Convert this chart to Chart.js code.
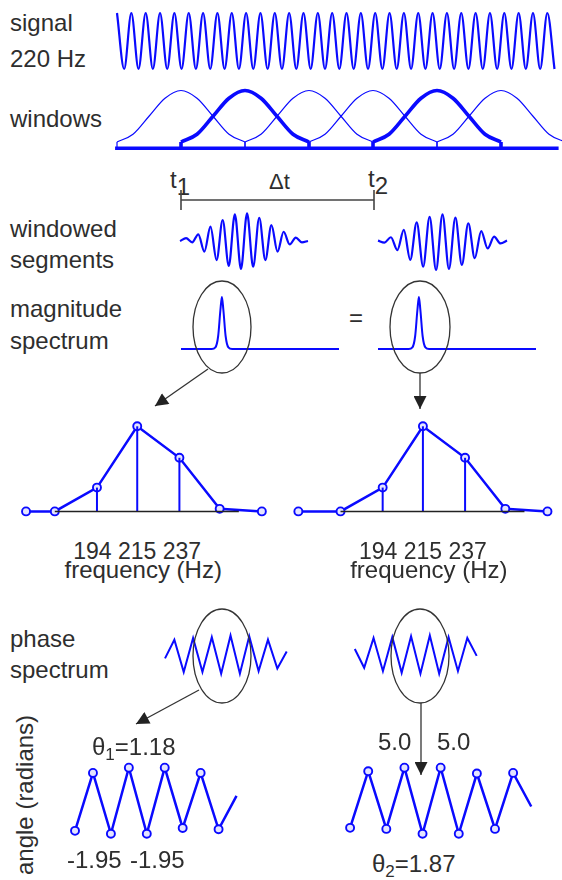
<!DOCTYPE html>
<html>
<head>
<meta charset="utf-8">
<script src="https://cdn.jsdelivr.net/npm/chart.js@4/dist/chart.umd.min.js"></script>
<style>
  body { margin: 0; background: #fff; }
  #page { position: relative; width: 562px; height: 880px; overflow: hidden;
          font-family: "Liberation Sans", Arial, sans-serif; color: #2e2e2e; }
  #page canvas { position: absolute; }
  .lbl { position: absolute; font-size: 24px; line-height: 24px; white-space: nowrap; }
  .lo { position: relative; top: 7px; }
  .sm { position: relative; top: 5px; font-size: 17px; }
  #deco { position: absolute; left: 0; top: 0; }
</style>
</head>
<body>
<div id="page">
  <div class="lbl" style="left:10px;top:11px">signal</div>
  <div class="lbl" style="left:10px;top:47px">220 Hz</div>
  <div class="lbl" style="left:10px;top:107px">windows</div>
  <div class="lbl" style="left:10px;top:217px">windowed</div>
  <div class="lbl" style="left:10px;top:248px">segments</div>
  <div class="lbl" style="left:10px;top:297px">magnitude</div>
  <div class="lbl" style="left:10px;top:329px">spectrum</div>
  <div class="lbl" style="left:10px;top:627px">phase</div>
  <div class="lbl" style="left:10px;top:658px">spectrum</div>
  <div class="lbl" style="left:13px;top:875px;transform-origin:0 0;transform:rotate(-90deg)">angle (radians)</div>

  <div class="lbl" style="left:170px;top:168px">t<span class="lo">1</span></div>
  <div class="lbl" style="left:269px;top:170px;font-size:22px">&Delta;t</div>
  <div class="lbl" style="left:368px;top:167px">t<span class="lo">2</span></div>
  <div class="lbl" style="left:349px;top:306px">=</div>

  <svg id="deco" width="562" height="880">
    <defs>
      <marker id="head" viewBox="0 0 10 10" refX="10" refY="5" markerWidth="14" markerHeight="13"
              markerUnits="userSpaceOnUse" orient="auto">
        <path d="M0,0 L10,5 L0,10 z" fill="#222"/>
      </marker>
    </defs>
    <g fill="none" stroke="#333" stroke-width="1.3">
      <path d="M181,200 H374 M181,190 V210 M374,190 V210" stroke="#444" stroke-width="1.6"/>
      <ellipse cx="222" cy="327" rx="29" ry="46"/>
      <ellipse cx="420" cy="327" rx="30" ry="46"/>
      <ellipse cx="222" cy="656" rx="29" ry="47"/>
      <ellipse cx="420" cy="656" rx="29" ry="47"/>
      <line x1="208" y1="369" x2="155" y2="406" marker-end="url(#head)"/>
      <line x1="420" y1="373" x2="420" y2="409" marker-end="url(#head)"/>
      <line x1="199" y1="690" x2="136" y2="724" marker-end="url(#head)"/>
      <line x1="421" y1="703" x2="421" y2="775" marker-end="url(#head)"/>
    </g>
  </svg>
</div>

<script>
// ---- data ----
// signal: successive peaks / troughs of the 220 Hz tone (31 cycles shown)
const signal220 = [
  1,-1,1,-1,1,-1,1,-1,1,-1, 1,-1,1,-1,1,-1,1,-1,1,-1,
  1,-1,1,-1,1,-1,1,-1,1,-1, 1,-1,1,-1,1,-1,1,-1,1,-1,
  1,-1,1,-1,1,-1,1,-1,1,-1, 1,-1,1,-1,1,-1,1,-1,1,-1,
  1,-1
];
// window shape sampled every quarter hop (window spans 2 hops)
const windowShape = [0, 0.15, 0.5, 0.85, 1, 0.85, 0.5, 0.15, 0];
const windowStarts = [0, 1, 2, 3, 4, 5];
const boldWindows = [1, 4];

// windowed segments: successive extremes
const segment1 = [0, 0.1, -0.05, 0.24, -0.38, 0.51, -0.68, 0.75, -0.89, 0.95, -1, 0.99, -0.92, 0.83, -0.68, 0.57, -0.38, 0.33, -0.12, 0.12, -0.05, 0];
const segment2 = [0.05, -0.02, 0.17, -0.29, 0.43, -0.64, 0.7, -0.88, 0.9, -1, 0.99, -0.96, 0.87, -0.82, 0.67, -0.58, 0.39, -0.23, 0.19, -0.05, 0.05];

// small magnitude spectrum (Hz, relative)
const specFreq = [0, 165, 185, 200, 212, 220, 228, 240, 255, 275, 850];
const specMag  = [0, 0, 0.03, 0.25, 0.75, 1, 0.75, 0.25, 0.03, 0, 0];

// spectrum bins
const binFreq1 = [157, 172, 194, 215, 237, 258, 280];
const binFreq2 = [150, 172, 194, 215, 237, 258, 280];
const binMag   = [0, 0, 0.28, 1, 0.63, 0.03, 0];
const stemFreq = [194, 215, 237];
const axisFreq = [172, 268];

// small phase spectra (relative)
const phaseSmall1 = [-0.2, 0.9, -1, 1, -1, 1.05, -1.1, 1.15, -1.1, 1.1, -0.95, 0.9, -0.8, 0.2];
const phaseSmall2 = [0.35, -0.75, 1, -0.95, 1.05, -1.05, 1.1, -1.1, 1.15, -1.1, 1.05, -0.95, 1, -0.05];

// phase per bin (radians), last entry is the trailing line end
const phase1 = [-1.80, 1.18, -1.95, 1.45, -1.95, 1.45, -1.65, 1.18, -1.72, 0.0];
const phase2 = [2.15, 4.83, 2.10, 5.0, 1.87, 5.0, 1.87, 4.72, 2.10, 4.75, 3.16];

const BLUE = '#0a0aff';
const page = document.getElementById('page');
const deco = document.getElementById('deco');

function line(data, width, extra) {
  return Object.assign({
    data: data, showLine: true, borderColor: BLUE, borderWidth: width,
    pointRadius: 0, fill: false
  }, extra || {});
}
function idx(arr) { return arr.map((v, i) => ({ x: i, y: v })); }
function zip(xs, ys) { return xs.map((x, i) => ({ x: x, y: ys[i] })); }

// box: canvas on page; xm/ym: value v0 sits at page pixel p0, v1 at p1
function panel(box, xm, ym, datasets) {
  const cv = document.createElement('canvas');
  cv.width = box.w; cv.height = box.h;
  cv.style.left = box.left + 'px'; cv.style.top = box.top + 'px';
  page.insertBefore(cv, deco);
  const sx = (xm.p1 - xm.p0) / (xm.v1 - xm.v0);
  const xmin = xm.v0 - (xm.p0 - box.left) / sx;
  const sy = (ym.p1 - ym.p0) / (ym.v1 - ym.v0);
  const ya = ym.v0 + (box.top - ym.p0) / sy;
  const yb = ym.v0 + (box.top + box.h - ym.p0) / sy;
  const chart = new Chart(cv, {
    type: 'scatter',
    data: { datasets: datasets },
    options: {
      responsive: false, animation: false, events: [],
      layout: { padding: 0 },
      plugins: { legend: { display: false }, tooltip: { enabled: false } },
      scales: {
        x: { type: 'linear', display: false, min: xmin, max: xmin + box.w / sx },
        y: { type: 'linear', display: false, min: Math.min(ya, yb), max: Math.max(ya, yb) }
      }
    }
  });
  chart.box = box;
  return chart;
}
function label(html, x, baseline, center, size) {
  const d = document.createElement('div');
  d.className = 'lbl';
  d.innerHTML = html;
  if (size) { d.style.fontSize = size + 'px'; }
  page.insertBefore(d, deco);
  const w = center ? d.getBoundingClientRect().width : 0;
  d.style.left = (x - w / 2) + 'px';
  d.style.top = (baseline - 0.846 * (size || 24)) + 'px';
}

// signal
panel({ left: 100, top: 0, w: 462, h: 85 }, { v0: 0, p0: 117, v1: 61, p1: 554.5 }, { v0: 1, p0: 13, v1: -1, p1: 69 },
  [line(idx(signal220), 2.2, { cubicInterpolationMode: 'monotone' })]);

// windows
const winSets = [line([{ x: -0.03, y: -0.12 }, { x: 6.9, y: -0.12 }], 3.5)];
windowStarts.forEach(s => {
  const w = boldWindows.includes(s) ? 3.6 : 1.2;
  winSets.push(line(windowShape.map((v, k) => ({ x: s + k * 0.25, y: v })), w, { cubicInterpolationMode: 'monotone' }));
  winSets.push(line([{ x: s, y: 0 }, { x: s, y: -0.12 }], w));
  winSets.push(line([{ x: s + 2, y: 0 }, { x: s + 2, y: -0.12 }], w));
});
panel({ left: 100, top: 80, w: 462, h: 75 }, { v0: 0, p0: 117, v1: 1, p1: 181 }, { v0: 0, p0: 142, v1: 1, p1: 90.5 }, winSets);

// windowed segments
panel({ left: 170, top: 205, w: 150, h: 75 }, { v0: 0, p0: 180, v1: 21, p1: 308 }, { v0: 1, p0: 213, v1: -1, p1: 269 },
  [line(idx(segment1), 2.2, { cubicInterpolationMode: 'monotone' })]);
panel({ left: 370, top: 205, w: 150, h: 75 }, { v0: 0, p0: 378, v1: 20, p1: 507 }, { v0: 1, p0: 214, v1: -1, p1: 270 },
  [line(idx(segment2), 2.2, { cubicInterpolationMode: 'monotone' })]);

// small magnitude spectra
[181, 378].forEach(x0 => {
  panel({ left: x0 - 6, top: 285, w: 170, h: 75 }, { v0: 0, p0: x0, v1: 850, p1: x0 + 158 }, { v0: 0, p0: 349, v1: 1, p1: 297 },
    [line(zip(specFreq, specMag), 2, { cubicInterpolationMode: 'monotone' })]);
});

const MARK = { pointBorderWidth: 1.9, pointBorderColor: BLUE, pointBackgroundColor: '#e4e4ff' };

// bin stem plots
function stemPlot(box, freqs, px215) {
  const sets = [line(zip(axisFreq, [0, 0]), 1.5, { borderColor: '#222' })];
  stemFreq.forEach(f => {
    sets.push(line([{ x: f, y: 0 }, { x: f, y: binMag[freqs.indexOf(f)] }], 2));
  });
  sets.push(line(zip(freqs, binMag), 2.5, Object.assign({ pointRadius: 4 }, MARK)));
  const c = panel(box, { v0: 215, p0: px215, v1: 237, p1: px215 + 44 }, { v0: 0, p0: 516, v1: 1, p1: 422 }, sets);
  return stemFreq.map(f => c.box.left + c.scales.x.getPixelForValue(f));
}
const t1 = stemPlot({ left: 0, top: 405, w: 285, h: 125 }, binFreq1, 137);
const t2 = stemPlot({ left: 280, top: 405, w: 282, h: 125 }, binFreq2, 423);
[t1, t2].forEach(ticks => {
  const mid = (ticks[0] + ticks[2]) / 2;
  label(stemFreq.join(' '), mid - 1, 558, true, 23);
  label('frequency (Hz)', mid + 5, 578, true);
});

// small phase spectra
panel({ left: 155, top: 620, w: 140, h: 70 }, { v0: 0, p0: 165, v1: 13, p1: 286.7 }, { v0: 1, p0: 638, v1: -1, p1: 672 },
  [line(idx(phaseSmall1), 2)]);
panel({ left: 345, top: 620, w: 140, h: 70 }, { v0: 0, p0: 354.8, v1: 13, p1: 476.7 }, { v0: 1, p0: 638, v1: -1, p1: 672 },
  [line(idx(phaseSmall2), 2)]);

// phase per bin
function phasePlot(box, data, xm, ym) {
  return panel(box, xm, ym, [line(idx(data), 2.5, Object.assign({
    pointRadius: data.map((v, i) => i === data.length - 1 ? 0 : 4)
  }, MARK))]);
}
phasePlot({ left: 55, top: 750, w: 200, h: 100 }, phase1, { v0: 0, p0: 70, v1: 1, p1: 89.07 }, { v0: 1.18, p0: 769.3, v1: -1.95, p1: 838.3 });
phasePlot({ left: 330, top: 750, w: 220, h: 100 }, phase2, { v0: 0, p0: 345, v1: 1, p1: 364.14 }, { v0: 5.0, p0: 763.3, v1: 1.87, p1: 838.3 });

label('&theta;<span class="sm">1</span>=' + phase1[1].toFixed(2), 92, 755);
label(phase1[2].toFixed(2), 67, 868);
label(phase1[4].toFixed(2), 130, 868);
label(phase2[3].toFixed(1), 378, 750);
label(phase2[5].toFixed(1), 437, 750);
label('&theta;<span class="sm">2</span>=' + phase2[4].toFixed(2), 372, 872);
</script>
</body>
</html>
